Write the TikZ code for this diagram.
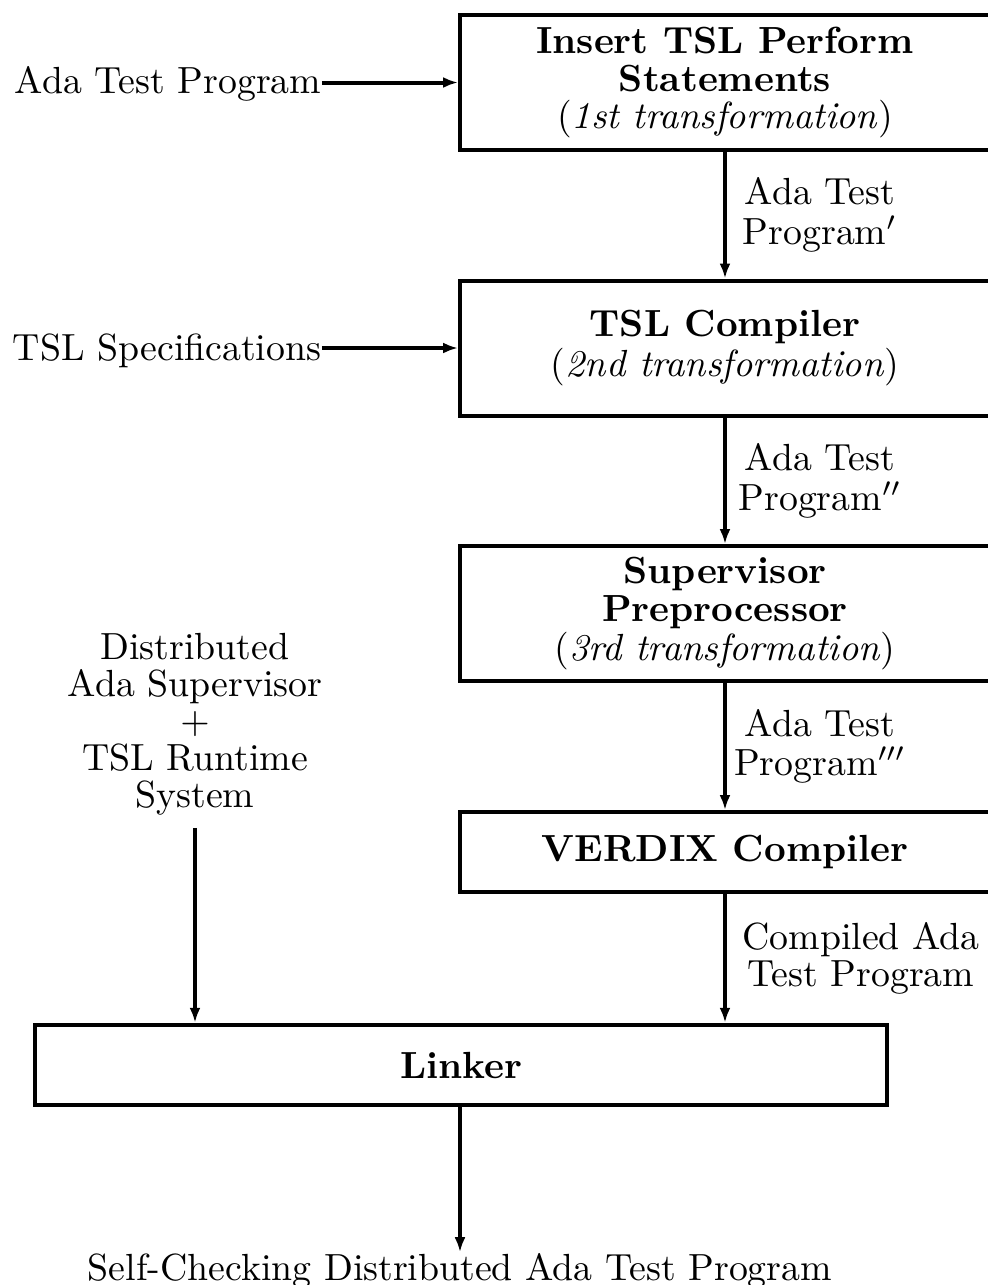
\documentclass[tikz,border=0pt]{standalone}
\usetikzlibrary{arrows.meta}
\begin{document}
% one coordinate unit is one pixel of the finished 988x1285 drawing
\begin{tikzpicture}[x=0.26455pt,y=-0.26455pt,
  every node/.style={font=\fontsize{10}{9.8}\selectfont, inner sep=0pt},
  stage/.style={draw, line width=1.058pt, align=center, minimum width=140.2pt, minimum height=35.71pt},
  lbl/.style={align=center},
  arr/.style={line width=1.058pt, -{Latex[length=3.97pt,width=2.9pt]}}]
\clip (0,0) rectangle (988,1285);
\fill[white] (0,0) rectangle (988,1285);

% processing stages
\node[stage] (b1) at (725,82.5) {\bfseries Insert TSL Perform\\\bfseries Statements\\(\textit{1st transformation})};
\node[stage] (b2) at (725,348) {\bfseries TSL Compiler\\[1pt](\textit{2nd transformation})};
\node[stage] (b3) at (725,613.5) {\bfseries Supervisor\\[0.3pt]\bfseries Preprocessor\\[0.6pt](\textit{3rd transformation})};
\node[stage, minimum height=21.16pt] (b4) at (725,852) {\bfseries VERDIX Compiler};
\node[stage, minimum width=225.4pt, minimum height=21.3pt] (lk) at (461,1065) {\bfseries Linker};

% inputs
\node[anchor=base east] (in1) at (322,93) {Ada Test Program};
\node[anchor=base east] (in2) at (322,360) {TSL Specifications};
\node[lbl] (sup) at (195,724) {Distributed\\Ada Supervisor\\$+$\\TSL Runtime\\System};
\node[anchor=base] (out) at (460,1280) {Self-Checking Distributed Ada Test Program};

% intermediate programs
\node[lbl] (l1) at (820,215) {Ada Test\\[0.6pt]Program$'$};
\node[lbl] (l2) at (820,481) {Ada Test\\[0.6pt]Program$''$};
\node[lbl] (l3) at (820,746) {Ada Test\\[0.6pt]Program$'''$};
\node[lbl] (l4) at (861,958) {Compiled Ada\\Test Program};

% flow
\draw[arr] (in1.east |- b1) -- (b1.west);
\draw[arr] (in2.east |- b2) -- (b2.west);
\draw[arr] (b1) -- (b2);
\draw[arr] (b2) -- (b3);
\draw[arr] (b3) -- (b4);
\draw[arr] (b4) -- (b4 |- lk.north);
\path (sup.south) ++(0,12) coordinate (s0);
\draw[arr] (s0) -- (s0 |- lk.north);
\draw[arr] (out.north |- lk.south) -- (out.north);
\end{tikzpicture}
\end{document}
